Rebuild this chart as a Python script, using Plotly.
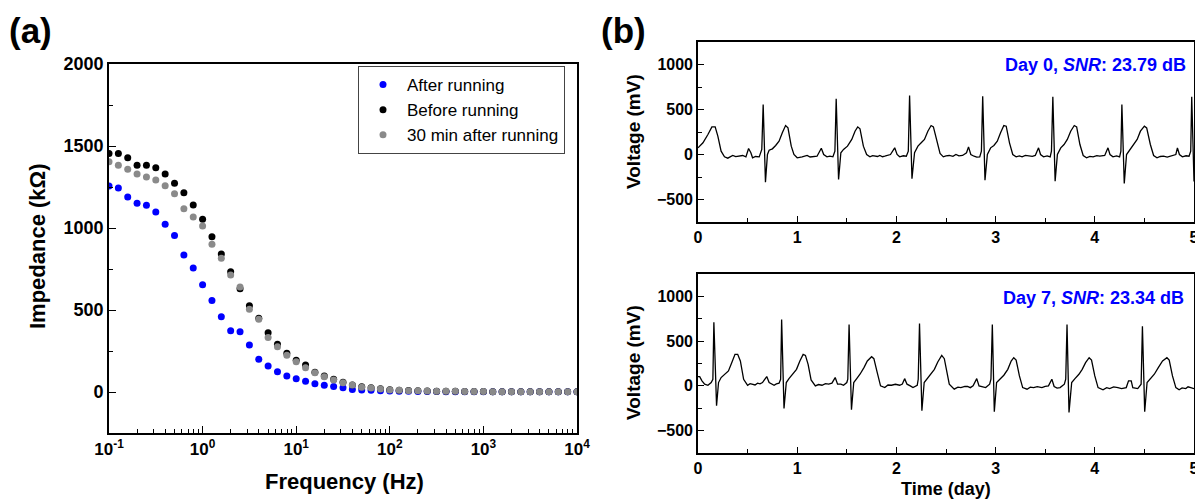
import plotly.graph_objects as go

# ---------------- (a) impedance data ----------------
FREQ_HZ = [0.1, 0.1259, 0.1585, 0.1995, 0.2512, 0.3162, 0.3981, 0.5012, 0.631, 0.7943,
           1, 1.259, 1.585, 1.995, 2.512, 3.162, 3.981, 5.012, 6.31, 7.943,
           10, 12.59, 15.85, 19.95, 25.12, 31.62, 39.81, 50.12, 63.1, 79.43,
           100, 125.9, 158.5, 199.5, 251.2, 316.2, 398.1, 501.2, 631, 794.3,
           1000, 1259, 1585, 1995, 2512, 3162, 3981, 5012, 6310, 7943, 10000]

Z_AFTER = [1256, 1244, 1189, 1151, 1138, 1098, 1023, 955, 835, 756,
           654, 558, 459, 374, 368, 287, 199, 159, 124, 98,
           81, 65, 51, 41, 33, 26, 16, 12, 10, 8,
           6, 5, 4, 3, 3, 3, 2, 2, 2, 2,
           2, 2, 2, 2, 2, 2, 2, 2, 2, 2, 2]

Z_BEFORE = [1455, 1455, 1429, 1382, 1382, 1368, 1329, 1273, 1215, 1140,
            1053, 947, 841, 733, 629, 526, 450, 362, 291, 236,
            193, 165, 120, 98, 77, 59, 43, 32, 26, 20,
            14, 11, 9, 7, 6, 5, 4, 4, 3, 3,
            3, 2, 2, 2, 2, 2, 2, 2, 2, 2, 2]

Z_30MIN = [1404, 1382, 1358, 1329, 1311, 1293, 1258, 1209, 1118, 1067,
           1012, 901, 816, 714, 640, 504, 443, 333, 276, 224,
           185, 148, 118, 93, 73, 57, 43, 29, 24, 18,
           12, 10, 8, 7, 6, 5, 4, 4, 3, 3,
           3, 2, 2, 2, 2, 2, 2, 2, 2, 2, 2]

SERIES_NAMES = ["After running", "Before running", "30 min after running"]
FREQ_TICKS = [0.1, 1, 10, 100, 1000, 10000]
FREQ_TICK_TEXT = ["10<sup>-1</sup>", "10<sup>0</sup>", "10<sup>1</sup>",
                  "10<sup>2</sup>", "10<sup>3</sup>", "10<sup>4</sup>"]

# ---------------- (b) ECG traces (time, voltage mV) ----------------
ECG_DAY0 = [(0.0, 74), (0.05, 130), (0.10, 222), (0.14, 307), (0.173, 307), (0.2, 204),
            (0.233, 37), (0.267, -26), (0.30, -41), (0.33, -20), (0.35, -11), (0.38, -24),
            (0.40, -19), (0.43, -8), (0.45, -11), (0.483, -26), (0.51, 67), (0.533, 19),
            (0.55, -37), (0.58, -22), (0.617, -26), (0.643, 56), (0.657, 556), (0.68, -307),
            (0.70, 0), (0.717, 48), (0.75, 63), (0.783, 100), (0.817, 148), (0.85, 241),
            (0.883, 322), (0.907, 296), (0.94, 93), (0.967, 0), (1.0, -37), (1.05, -26),
            (1.08, -15), (1.10, -11), (1.13, -28), (1.15, -26), (1.20, -19), (1.243, 70),
            (1.267, 0), (1.30, -26), (1.33, -18), (1.36, -26), (1.38, 37), (1.393, 619),
            (1.417, -278), (1.44, 19), (1.467, 56), (1.507, 93), (1.55, 167), (1.583, 259),
            (1.61, 307), (1.633, 285), (1.667, 93), (1.70, 0), (1.733, -26), (1.76, -12),
            (1.783, -19), (1.81, -22), (1.833, -11), (1.86, -25), (1.883, -19), (1.94, 0),
            (1.983, 74), (2.007, 0), (2.033, -26), (2.07, -14), (2.10, -19), (2.12, 37),
            (2.133, 656), (2.157, -270), (2.183, 19), (2.217, 93), (2.25, 130), (2.283, 167),
            (2.317, 259), (2.35, 322), (2.373, 307), (2.407, 167), (2.44, 11), (2.473, -26),
            (2.50, -15), (2.533, -11), (2.57, -20), (2.60, 0), (2.63, -15), (2.667, -11),
            (2.707, 19), (2.727, 85), (2.75, 0), (2.783, -19), (2.81, -30), (2.84, -26),
            (2.857, 37), (2.87, 648), (2.893, -285), (2.917, 0), (2.95, 74), (2.983, 100),
            (3.017, 148), (3.05, 241), (3.083, 322), (3.107, 315), (3.14, 130), (3.173, 0),
            (3.207, -26), (3.24, -15), (3.267, -26), (3.30, -10), (3.333, -11), (3.37, -20),
            (3.40, -11), (3.433, 74), (3.453, 0), (3.483, -26), (3.52, -15), (3.55, -26),
            (3.563, 37), (3.577, 641), (3.60, -296), (3.623, 0), (3.657, 74), (3.69, 111),
            (3.723, 167), (3.757, 259), (3.793, 322), (3.817, 307), (3.85, 111), (3.883, -11),
            (3.917, -37), (3.95, -20), (3.983, -26), (4.02, -12), (4.05, -19), (4.10, -11),
            (4.133, 74), (4.153, 0), (4.183, -26), (4.22, -15), (4.25, -26), (4.263, 37),
            (4.273, 556), (4.297, -322), (4.32, 0), (4.353, 56), (4.387, 100), (4.427, 167),
            (4.46, 259), (4.50, 315), (4.523, 296), (4.56, 111), (4.593, -11), (4.627, -37),
            (4.66, -22), (4.693, -19), (4.73, -28), (4.767, -19), (4.817, 0), (4.833, 74),
            (4.853, 0), (4.883, -26), (4.92, -14), (4.95, -19), (4.967, 37), (4.977, 641),
            (5.0, -300)]

ECG_DAY7 = [(0.0, 104), (0.017, 104), (0.04, 56), (0.067, 19), (0.10, 7), (0.133, 37),
            (0.15, 74), (0.16, 711), (0.187, -222), (0.207, 37), (0.233, 93), (0.273, 130),
            (0.307, 167), (0.34, 259), (0.373, 352), (0.40, 352), (0.427, 278), (0.46, 74),
            (0.50, 7), (0.525, 25), (0.55, 19), (0.575, 10), (0.60, 30), (0.625, 22),
            (0.65, 37), (0.693, 104), (0.717, 37), (0.767, 7), (0.79, 22), (0.817, 30),
            (0.833, 74), (0.843, 741), (0.867, -252), (0.89, 37), (0.917, 81), (0.957, 130),
            (0.993, 185), (1.027, 278), (1.06, 352), (1.083, 341), (1.11, 241), (1.14, 67),
            (1.183, 0), (1.215, 15), (1.25, 7), (1.285, 25), (1.317, 19), (1.35, 30),
            (1.383, 93), (1.407, 19), (1.44, 20), (1.467, 7), (1.50, 37), (1.51, 74),
            (1.523, 685), (1.547, -267), (1.57, 37), (1.60, 81), (1.633, 130), (1.673, 204),
            (1.707, 278), (1.75, 326), (1.773, 304), (1.807, 148), (1.84, 0), (1.883, -19),
            (1.915, 10), (1.95, 7), (1.99, 18), (2.033, 7), (2.06, 20), (2.083, 81),
            (2.107, 19), (2.14, 0), (2.167, -19), (2.21, 7), (2.22, 74), (2.233, 696),
            (2.257, -278), (2.28, 37), (2.317, 93), (2.35, 130), (2.383, 185), (2.417, 267),
            (2.457, 341), (2.483, 304), (2.51, 130), (2.533, 19), (2.583, -37), (2.62, -15),
            (2.65, -19), (2.69, -5), (2.717, -7), (2.745, -20), (2.773, 0), (2.81, 81),
            (2.833, 0), (2.87, -10), (2.90, -19), (2.94, 19), (2.953, 74), (2.967, 685),
            (2.987, -289), (3.01, 37), (3.04, 74), (3.083, 119), (3.123, 185), (3.157, 278),
            (3.183, 315), (3.207, 289), (3.24, 111), (3.273, -19), (3.317, -37), (3.35, -15),
            (3.383, -19), (3.42, -8), (3.467, -19), (3.50, -5), (3.533, 0), (3.567, 74),
            (3.59, -7), (3.62, -25), (3.65, -19), (3.693, 19), (3.707, 74), (3.72, 685),
            (3.74, -296), (3.767, 37), (3.80, 81), (3.84, 130), (3.873, 185), (3.907, 259),
            (3.943, 315), (3.967, 289), (4.0, 111), (4.033, -19), (4.083, -44), (4.12, -20),
            (4.15, -30), (4.19, -12), (4.233, -19), (4.27, -30), (4.317, -19), (4.34, 56),
            (4.367, 56), (4.383, -19), (4.433, -30), (4.467, 19), (4.48, 667), (4.503, -289),
            (4.527, 37), (4.56, 81), (4.60, 130), (4.64, 204), (4.683, 278), (4.727, 315),
            (4.75, 289), (4.783, 111), (4.817, -19), (4.85, -44), (4.88, -22), (4.917, -30),
            (4.94, -10), (4.967, -19), (5.0, -30)]

PANEL_NOTES = ["Day 0, <i>SNR</i>: 23.79 dB", "Day 7, <i>SNR</i>: 23.34 dB"]

# ---------------- figure ----------------
# The page body has an 8 px margin, so the figure starts at page (8, 8).
OFF = 8
W, H = 1203 - OFF, 499 - OFF
FONT = "Arial, Liberation Sans, sans-serif"
RIGHT_EDGE = 1194  # right border of panel (b), kept inside the visible page


def px_x(p):
    """page pixel x -> paper fraction"""
    return (p - OFF) / W


def px_y(p):
    """page pixel y (from top) -> paper fraction"""
    return 1 - (p - OFF) / H


fig = go.Figure()

colors = ["#0000FF", "#000000", "#8A8A8A"]
for name, z, c in zip(SERIES_NAMES, [Z_AFTER, Z_BEFORE, Z_30MIN], colors):
    fig.add_trace(go.Scatter(x=FREQ_HZ, y=z, mode="markers", name=name,
                             marker=dict(size=7, color=c, line=dict(width=0)),
                             xaxis="x", yaxis="y"))

t0, v0 = zip(*ECG_DAY0)
t7, v7 = zip(*ECG_DAY7)
fig.add_trace(go.Scatter(x=list(t0), y=list(v0), mode="lines", showlegend=False,
                         line=dict(color="black", width=1.3), xaxis="x2", yaxis="y2"))
fig.add_trace(go.Scatter(x=list(t7), y=list(v7), mode="lines", showlegend=False,
                         line=dict(color="black", width=1.3), xaxis="x3", yaxis="y3"))

axis_common = dict(showline=True, linecolor="black", linewidth=1.6, mirror=True,
                   ticks="inside", tickcolor="black", tickwidth=1.4, showgrid=False,
                   zeroline=False, automargin=False, ticklabeloverflow="allow")

minor_log = [m * 10 ** e for e in range(-1, 4) for m in range(2, 10)]

fig.update_layout(
    width=W, height=H,
    margin=dict(l=0, r=0, t=0, b=0, pad=0, autoexpand=False),
    paper_bgcolor="white", plot_bgcolor="white",
    font=dict(family=FONT, color="black"),
    xaxis=dict(**axis_common, type="log", range=[-1, 4],
               domain=[px_x(109), px_x(577)], anchor="y",
               tickvals=FREQ_TICKS, ticktext=FREQ_TICK_TEXT, ticklen=7,
               tickfont=dict(size=17, family=FONT, weight="bold"),
               minor=dict(tickvals=minor_log, ticks="inside", ticklen=4,
                          tickcolor="black", tickwidth=1.2, showgrid=False)),
    yaxis=dict(**axis_common, range=[-250, 2000],
               domain=[px_y(433), px_y(64)], anchor="x",
               tickvals=[0, 500, 1000, 1500, 2000], ticklen=7,
               tickfont=dict(size=18, family=FONT, weight="bold"),
               minor=dict(dtick=250, ticks="inside", ticklen=4,
                          tickcolor="black", tickwidth=1.2, showgrid=False)),
    xaxis2=dict(**axis_common, range=[0, 5],
                domain=[px_x(698), px_x(RIGHT_EDGE)], anchor="y2",
                tickvals=[0, 1, 2, 3, 4, 5], ticklen=6,
                tickfont=dict(size=16, family=FONT, weight="bold"),
                minor=dict(dtick=0.5, ticks="inside", ticklen=4,
                           tickcolor="black", tickwidth=1.2, showgrid=False)),
    yaxis2=dict(**axis_common, range=[-750, 1250],
                domain=[px_y(222), px_y(42)], anchor="x2",
                tickvals=[-500, 0, 500, 1000], ticklen=6,
                tickfont=dict(size=16, family=FONT, weight="bold"),
                minor=dict(dtick=250, ticks="inside", ticklen=4,
                           tickcolor="black", tickwidth=1.2, showgrid=False)),
    xaxis3=dict(**axis_common, range=[0, 5],
                domain=[px_x(698), px_x(RIGHT_EDGE)], anchor="y3",
                tickvals=[0, 1, 2, 3, 4, 5], ticklen=6,
                tickfont=dict(size=16, family=FONT, weight="bold"),
                minor=dict(dtick=0.5, ticks="inside", ticklen=4,
                           tickcolor="black", tickwidth=1.2, showgrid=False)),
    yaxis3=dict(**axis_common, range=[-750, 1250],
                domain=[px_y(453), px_y(274)], anchor="x3",
                tickvals=[-500, 0, 500, 1000], ticklen=6,
                tickfont=dict(size=16, family=FONT, weight="bold"),
                minor=dict(dtick=250, ticks="inside", ticklen=4,
                           tickcolor="black", tickwidth=1.2, showgrid=False)),
    legend=dict(x=px_x(358), y=px_y(66), xanchor="left", yanchor="top",
                bordercolor="#444444", borderwidth=1, bgcolor="white",
                font=dict(size=17, family=FONT), tracegroupgap=0,
                itemwidth=38),
)

ann = []


def add_text(text, x, y, size, xanchor="center", yanchor="middle", angle=0,
             color="black", bold=True):
    ann.append(dict(text=text, x=px_x(x), y=px_y(y), xref="paper", yref="paper",
                    xanchor=xanchor, yanchor=yanchor, textangle=angle, showarrow=False,
                    font=dict(size=size, color=color, family=FONT,
                              weight="bold" if bold else "normal")))


add_text("(a)", 7, 31, 35, xanchor="left")
add_text("(b)", 599, 31, 35, xanchor="left")
add_text("Impedance (kΩ)", 38, 246, 22, angle=-90)
add_text("Frequency (Hz)", 344, 481, 22)
add_text("Voltage (mV)", 633, 132, 19, angle=-90)
add_text("Voltage (mV)", 633, 363, 19, angle=-90)
add_text("Time (day)", 946, 489, 18)
add_text(PANEL_NOTES[0], 1188, 65, 18, xanchor="right", color="#0000FF")
add_text(PANEL_NOTES[1], 1186, 298, 18, xanchor="right", color="#0000FF")

fig.update_layout(annotations=ann)

fig.write_html("out.html")
